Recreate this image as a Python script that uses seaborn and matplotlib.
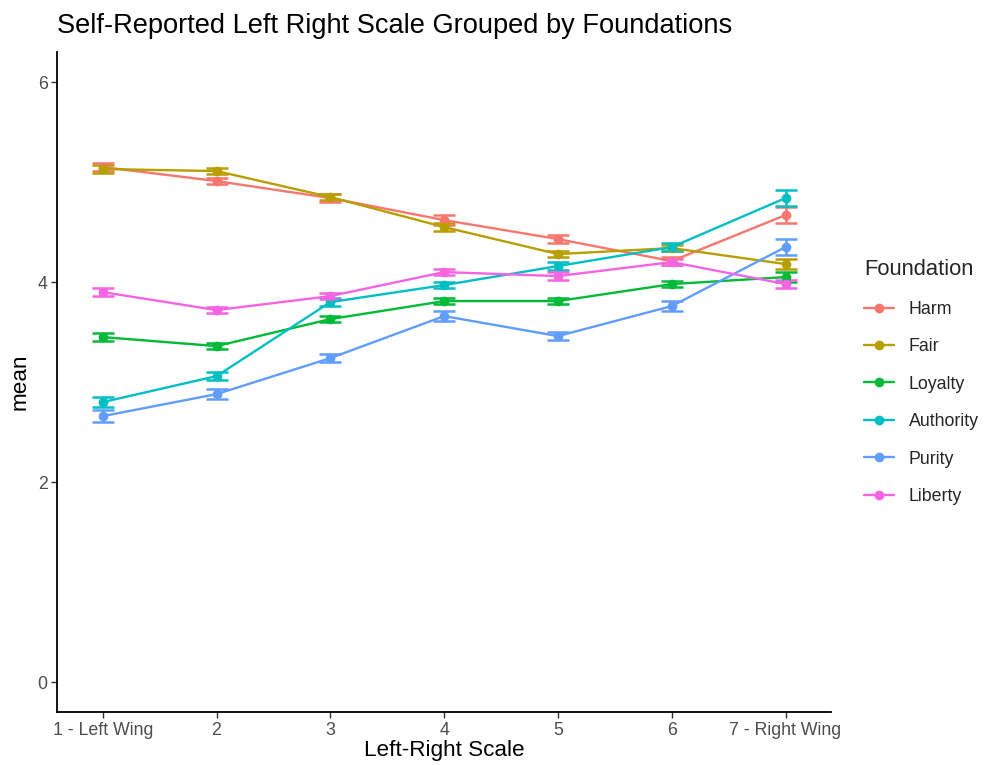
import numpy as np
import pandas as pd
import matplotlib
matplotlib.use("Agg")
import matplotlib.pyplot as plt
import seaborn as sns

scale = [1, 2, 3, 4, 5, 6, 7]
tick_labels = ["1 - Left Wing", "2", "3", "4", "5", "6", "7 - Right Wing"]
foundations = ["Harm", "Fair", "Loyalty", "Authority", "Purity", "Liberty"]

harm_mean = [5.15, 5.01, 4.84, 4.62, 4.43, 4.21, 4.67]
fair_mean = [5.13, 5.11, 4.85, 4.55, 4.28, 4.34, 4.18]
loyalty_mean = [3.45, 3.36, 3.63, 3.81, 3.81, 3.98, 4.05]
authority_mean = [2.80, 3.06, 3.80, 3.97, 4.16, 4.35, 4.84]
purity_mean = [2.66, 2.88, 3.24, 3.66, 3.46, 3.76, 4.35]
liberty_mean = [3.90, 3.72, 3.86, 4.10, 4.06, 4.20, 3.98]

harm_se = [0.04, 0.03, 0.04, 0.05, 0.04, 0.04, 0.08]
fair_se = [0.04, 0.03, 0.03, 0.04, 0.03, 0.03, 0.05]
loyalty_se = [0.04, 0.03, 0.03, 0.03, 0.03, 0.03, 0.05]
authority_se = [0.05, 0.04, 0.04, 0.03, 0.04, 0.04, 0.08]
purity_se = [0.06, 0.05, 0.04, 0.05, 0.04, 0.05, 0.08]
liberty_se = [0.04, 0.03, 0.03, 0.03, 0.04, 0.03, 0.04]

means = [harm_mean, fair_mean, loyalty_mean, authority_mean, purity_mean, liberty_mean]
ses = [harm_se, fair_se, loyalty_se, authority_se, purity_se, liberty_se]
palette = ["#F8766D", "#B79F00", "#00BA38", "#00BFC4", "#619CFF", "#F564E3"]

rows = []
for f, m, s in zip(foundations, means, ses):
    for x, mv, sv in zip(scale, m, s):
        rows.append({"scale": x, "mean": mv, "se": sv, "Foundation": f})
df = pd.DataFrame(rows)

sns.set_theme(style="white")
plt.rcParams["font.family"] = ["Liberation Sans", "DejaVu Sans"]

fig = plt.figure(figsize=(9.87, 7.65), dpi=100)
ax = fig.add_axes([0.058, 0.069, 0.784, 0.863])

sns.lineplot(data=df, x="scale", y="mean", hue="Foundation", hue_order=foundations,
             palette=palette, marker="o", markersize=7, markeredgewidth=0,
             linewidth=1.7, ax=ax, legend=True)
for f, c in zip(foundations, palette):
    sub = df[df["Foundation"] == f]
    ax.errorbar(sub["scale"], sub["mean"], yerr=sub["se"], fmt="none", ecolor=c,
                elinewidth=1.8, capsize=8, capthick=1.8, zorder=1)

ax.set_xlim(0.6, 7.4)
ax.set_ylim(-0.3, 6.3)
ax.set_xticks(scale)
ax.set_xticklabels(tick_labels)
ax.set_yticks([0, 2, 4, 6])
ax.set_yticklabels(["0", "2", "4", "6"])
ax.tick_params(axis="both", which="both", length=4, width=1, color="#333333",
               labelcolor="#4D4D4D", labelsize=12.8, direction="out",
               bottom=True, left=True, pad=3)
for side in ["top", "right"]:
    ax.spines[side].set_visible(False)
for side in ["left", "bottom"]:
    ax.spines[side].set_color("black")
    ax.spines[side].set_linewidth(1.3)

ax.set_xlabel("Left-Right Scale", fontsize=16.2, color="black", labelpad=1)
ax.set_ylabel("mean", fontsize=16.2, color="black", labelpad=5)
fig.text(0.058, 0.966, "Self-Reported Left Right Scale Grouped by Foundations",
         fontsize=19.6, color="black", ha="left", va="center")

leg = ax.legend(title="Foundation", loc="center left", bbox_to_anchor=(1.022, 0.50),
                frameon=False, fontsize=12.8, title_fontsize=15.8,
                handlelength=1.7, labelspacing=1.15, handletextpad=0.8)
leg._legend_box.align = "left"

fig.savefig("out.png", dpi=100)
